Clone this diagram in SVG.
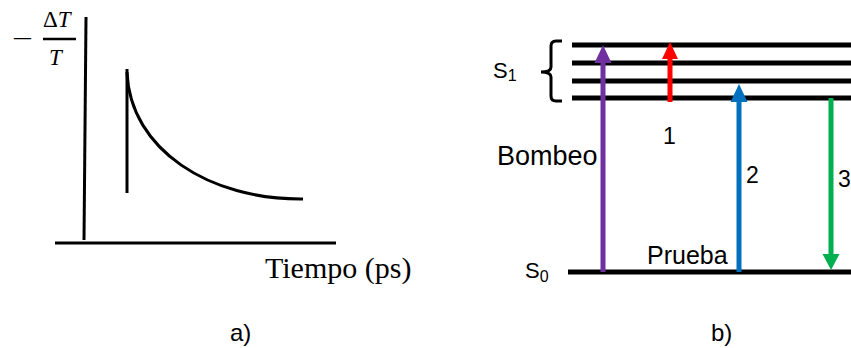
<svg xmlns="http://www.w3.org/2000/svg" width="851" height="348" viewBox="0 0 851 348">
<defs>
<style>
.ax{stroke:#000;stroke-width:3;fill:none}
.lvl{stroke:#000;stroke-width:5}
.sans{font-family:"Liberation Sans",Arial,sans-serif;fill:#000}
.serif{font-family:"Liberation Serif","Times New Roman",serif;fill:#000}
</style>
</defs>
<rect width="851" height="348" fill="#fff"/>
<g id="panel-a">
<g id="axes">
<line class="ax" x1="86" y1="17" x2="84" y2="240"/>
<line class="ax" x1="55" y1="243" x2="336" y2="243"/>
</g>
<g id="ylabel">
<text class="serif" x="12" y="46" font-size="22" textLength="21" lengthAdjust="spacingAndGlyphs">−</text>
<text class="serif" x="43" y="27" font-size="23">Δ<tspan font-style="italic">T</tspan></text>
<line x1="43" y1="39" x2="76" y2="39" stroke="#000" stroke-width="2.5"/>
<text class="serif" x="49" y="65" font-size="23" font-style="italic">T</text>
</g>
<g id="signal">
<line class="ax" x1="127" y1="69" x2="127" y2="193"/>
<path class="ax" d="M127,72 C130,150 210,200 303,199"/>
</g>
<text id="xlabel" class="serif" x="265" y="278" font-size="30">Tiempo (ps)</text>
<text id="label-a" class="sans" x="230" y="341" font-size="24">a)</text>
</g>
<g id="panel-b">
<g id="S1">
<line class="lvl" x1="572" y1="45" x2="851" y2="45"/>
<line class="lvl" x1="572" y1="63" x2="851" y2="63"/>
<line class="lvl" x1="572" y1="81" x2="851" y2="81"/>
<line class="lvl" x1="572" y1="98" x2="851" y2="98"/>
<path d="M562,41 L556,41 Q551,41 551,46 L551,67 Q551,72 541,72 Q551,72 551,77 L551,96 Q551,101 556,101 L562,101" fill="none" stroke="#000" stroke-width="3"/>
<text class="sans" x="493" y="78" font-size="22">S<tspan font-size="16" dy="3">1</tspan></text>
</g>
<g id="S0">
<line class="lvl" x1="568" y1="272" x2="851" y2="272"/>
<text class="sans" x="525" y="278" font-size="22">S<tspan font-size="16" dy="4">0</tspan></text>
</g>
<g id="connectors">
<line x1="603" y1="272" x2="603" y2="60" stroke="#7030A0" stroke-width="5"/>
<polygon points="603,45 594.5,63 611.5,63" fill="#7030A0"/>
<line x1="670" y1="102" x2="670" y2="56" stroke="#FF0000" stroke-width="5"/>
<polygon points="670,42 662,59 678,59" fill="#FF0000"/>
<line x1="739" y1="272" x2="739" y2="98" stroke="#0070C0" stroke-width="5"/>
<polygon points="739,84 730.5,102 747.5,102" fill="#0070C0"/>
<line x1="831" y1="98" x2="831" y2="258" stroke="#00B050" stroke-width="5"/>
<polygon points="831,270 822.5,254 839.5,254" fill="#00B050"/>
</g>
<text class="sans" x="497" y="165" font-size="27">Bombeo</text>
<text class="sans" x="663" y="144" font-size="23">1</text>
<text class="sans" x="746" y="183" font-size="23">2</text>
<text class="sans" x="838" y="187" font-size="23">3</text>
<text class="sans" x="647" y="264" font-size="25">Prueba</text>
<text id="label-b" class="sans" x="711" y="341" font-size="24">b)</text>
</g>
</svg>
